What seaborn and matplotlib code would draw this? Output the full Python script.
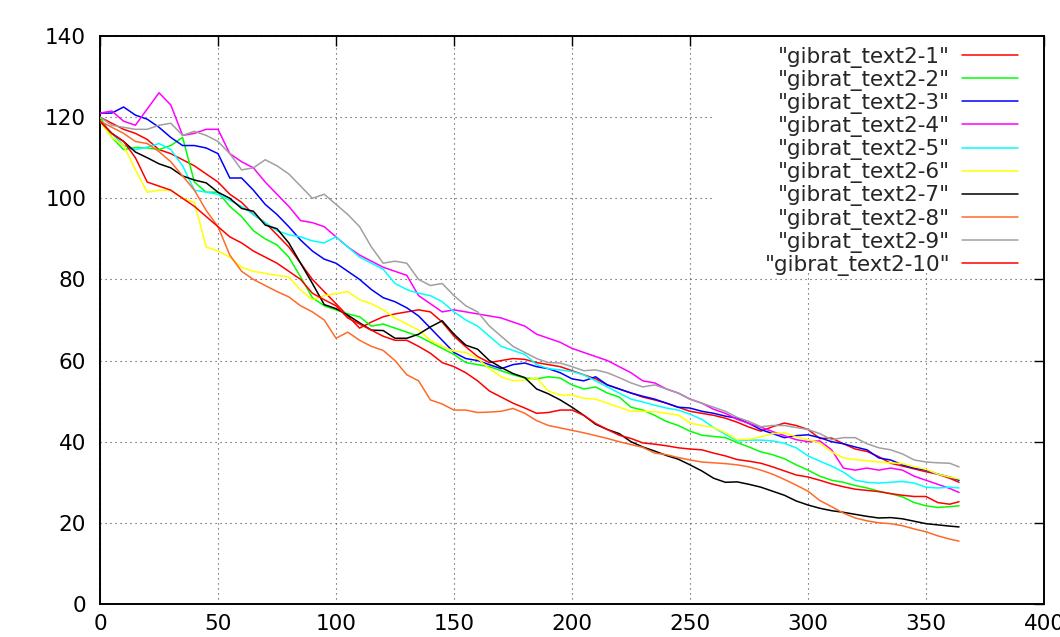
import numpy as np
import pandas as pd
import matplotlib
matplotlib.use("Agg")
import matplotlib.pyplot as plt
import matplotlib.patches as mpatches
import seaborn as sns

# day index (every 5 days, last day 364)
days = list(range(0, 365, 5)) + [364]

gibrat_1 = [120, 118.5, 117, 116, 114.5, 112, 111, 109.5, 108, 106, 104, 101, 99, 96, 94, 91, 88, 84, 80, 77,
            74, 71, 68, 69.5, 70.8, 71.5, 72, 72.5, 72, 69.5, 66, 63.4, 61, 59.5, 60, 60.5, 60.3, 59.5, 59, 58.5,
            57.5, 56.5, 55.5, 54, 53, 52, 51, 50.3, 49.5, 48.5, 47.5, 47, 46.5, 45.8, 44.8, 43.6, 42.6, 43.7, 44.6, 44,
            43, 40.8, 40.9, 39.5, 38.2, 37.6, 36.3, 34.7, 34, 33.3, 32.6, 32, 31, 30]
gibrat_2 = [120, 115, 112, 112.5, 112.4, 112, 113, 115, 104, 101.5, 101.5, 98, 95.5, 92, 90, 88.5, 85.5, 80.6, 75.5, 73.5,
            72.5, 71.5, 70.8, 68.5, 69, 68, 67, 66, 64.5, 63, 61.5, 59.5, 59, 58.5, 57.5, 56.5, 55.7, 55.5, 56, 55.7,
            54, 53, 53.5, 52, 51, 48.5, 47.8, 46.5, 45, 44, 42.6, 41.6, 41.3, 41, 39.8, 38.7, 37.5, 36.8, 35.8, 34.3,
            33, 31.5, 30.5, 30, 29.2, 28.6, 27.8, 27.2, 26.4, 25, 24.2, 23.8, 24, 24.2]
gibrat_3 = [121, 121, 122.5, 120.5, 119.5, 117.5, 115, 113, 113, 112.4, 111, 105, 105, 102, 98.5, 96, 93, 89.7, 87, 85,
            84, 82, 80, 77.5, 75.5, 74.5, 73, 71, 68, 65, 62, 60.5, 60, 59, 58, 59, 59.4, 58.5, 58, 57,
            55.5, 55, 56, 54, 53, 52, 51.2, 50.5, 49.5, 48.5, 48.3, 47.5, 47, 46.3, 45.8, 44.5, 43, 42, 41, 41.5,
            41.7, 41, 40, 39.5, 38.7, 38, 36, 35.5, 34.3, 33.5, 33, 32, 31.3, 30.5]
gibrat_4 = [121, 121.5, 119, 118, 122, 126, 123, 115.5, 116, 117, 117, 111, 109, 107.5, 104, 101, 98, 94.5, 94, 93,
            90.5, 88, 86, 84.5, 83, 82, 81, 76, 74, 72, 72.5, 72, 71.5, 71, 70.5, 69.5, 68.5, 66.5, 65.5, 64.5,
            63, 62, 61, 60, 58.5, 57, 55, 54.5, 53, 52, 50.5, 49.5, 48, 47, 45.5, 44.5, 43.6, 42.5, 41.5, 40.5,
            40, 40.2, 38, 33.5, 33, 33.5, 33, 33.5, 33, 31.5, 30.5, 29.5, 28.5, 27.5]
gibrat_5 = [119, 116, 113, 112, 112.6, 113.5, 112, 108, 102, 101.5, 101, 99.5, 98, 96, 94, 92, 91, 90.5, 89.5, 89,
            90.5, 88, 85.5, 84, 82.5, 79, 77.5, 76.6, 76, 74.5, 72, 70, 68.5, 66, 63.5, 62.5, 61.5, 59, 58, 57.7,
            57.3, 56.5, 55, 53.5, 52, 50.5, 49.8, 49, 48.3, 47.8, 46.8, 45.5, 43.5, 41.8, 40.2, 40.4, 40.4, 40.2, 39.6, 38.5,
            36.5, 35.2, 34, 32.5, 30.5, 30, 29.8, 30, 30.2, 29.8, 28.8, 28.6, 28.8, 28.6]
gibrat_6 = [119, 115, 113, 107, 101.5, 102, 102, 100, 99, 88, 87, 85.5, 83, 82, 81.5, 81, 80.6, 77.4, 75, 76,
            76.5, 77, 75, 74, 72.5, 70.5, 69, 67.5, 65, 63.5, 62.3, 62, 60.5, 58, 56, 55, 55.2, 55.7, 52.5, 51.5,
            51.5, 50.7, 50.5, 49.5, 48.5, 47.5, 47.5, 47.4, 47, 46.6, 44.6, 44, 43.5, 42.2, 40.5, 40.6, 41.2, 42, 42.2, 41.2,
            40.5, 39.7, 37.5, 36, 35.6, 35.3, 35, 34.8, 34.6, 33.8, 33.2, 32, 31.3, 30.8]
gibrat_7 = [119, 116, 114, 111.4, 110, 108.5, 107.5, 105.5, 104.5, 103.8, 101.5, 100, 97.5, 96.8, 93.4, 92.5, 89, 84, 79, 73.8,
            72.8, 71.2, 69.3, 67.5, 67.4, 65.5, 65.5, 66.5, 68.3, 69.8, 66.5, 63.8, 62.8, 60, 58.3, 56.8, 55.8, 53, 51.8, 50.3,
            48.5, 46.5, 44.3, 43, 42, 40, 38.7, 37.7, 36.6, 35.7, 34.3, 32.8, 31, 30, 30.1, 29.5, 28.8, 27.8, 26.8, 25.4,
            24.4, 23.6, 23, 22.6, 22.1, 21.6, 21.2, 21.3, 21, 20.4, 19.8, 19.5, 19.2, 19]
gibrat_8 = [119, 117.5, 116, 114, 113.5, 111.5, 109, 105.5, 102, 97, 93, 86, 82, 80, 78.5, 77, 75.7, 73.5, 72, 70,
            65.5, 67, 65, 63.5, 62.5, 60, 56.5, 55, 50.3, 49.3, 47.8, 47.8, 47.2, 47.3, 47.5, 48.2, 47, 45.2, 44, 43.4,
            42.8, 42.2, 41.5, 40.8, 40, 39.3, 38.6, 37.2, 36.8, 36.1, 35.5, 35, 34.8, 34.6, 34.3, 33.8, 33, 32, 30.7, 29.3,
            27.8, 25.5, 24, 22.4, 21.2, 20.5, 20, 19.8, 19.3, 18.5, 17.8, 16.8, 16, 15.5]
gibrat_9 = [120, 118, 117.5, 117, 117, 118, 118.5, 115.5, 116.5, 115.5, 114, 111, 107, 107.5, 109.5, 108, 106, 103, 100, 101,
            98.5, 96, 93, 88, 84, 84.5, 84, 80, 78.5, 79, 76, 73.5, 72, 68.5, 66, 63.5, 62, 60.5, 59.5, 59.4,
            58.5, 57.5, 57.7, 57, 55.8, 54.5, 53.5, 54, 53, 52, 50.5, 49.5, 48.5, 47.5, 46, 45, 43.7, 44, 44, 43.5,
            43, 42, 40.5, 41, 41, 39.5, 38.5, 38, 37, 35.5, 35, 34.8, 34.7, 33.8]
gibrat_10 = [119, 116, 114, 110, 104, 103, 102, 100, 98, 95.5, 93, 90.5, 89, 87, 85.5, 84, 82, 80, 76.6, 75,
             73.5, 70.5, 69, 67.5, 66, 65, 65, 63.5, 61.8, 59.5, 58.5, 57, 55, 52.5, 51, 49.5, 48.3, 47, 47.2, 47.8,
             47.8, 46.5, 44.5, 43, 41.6, 40.8, 39.7, 39.4, 39, 38.5, 38.2, 38, 37.2, 36.5, 35.6, 35.2, 34.7, 33.8, 32.8, 31.8,
             31.3, 30.5, 29.6, 28.9, 28.3, 28, 27.7, 27.2, 26.8, 26.5, 26.5, 25, 24.6, 25.2]

series_names = ['"gibrat_text2-%d"' % i for i in range(1, 11)]
series_values = [gibrat_1, gibrat_2, gibrat_3, gibrat_4, gibrat_5,
                 gibrat_6, gibrat_7, gibrat_8, gibrat_9, gibrat_10]
line_colors = ["#ff0000", "#00ff00", "#0000ff", "#ff00ff", "#00ffff",
               "#ffff00", "#000000", "#ff6a2a", "#a0a0a0", "#ff0000"]

x_ticks = [0, 50, 100, 150, 200, 250, 300, 350, 400]
y_ticks = [0, 20, 40, 60, 80, 100, 120, 140]

df = pd.concat([pd.DataFrame({"day": days, "value": v, "series": n})
                for n, v in zip(series_names, series_values)], ignore_index=True)

sns.set_style("white")
plt.rcParams["font.family"] = ["DejaVu Sans"]

fig = plt.figure(figsize=(10.6, 6.37), dpi=100)
ax = fig.add_axes([100 / 1060, 1 - 604 / 637, 944 / 1060, 568 / 637])

sns.lineplot(data=df, x="day", y="value", hue="series", hue_order=series_names,
             palette=dict(zip(series_names, line_colors)), estimator=None, sort=False,
             linewidth=1.1, ax=ax, zorder=3)

ax.set_xlim(0, 400)
ax.set_ylim(0, 140)
ax.set_xticks(x_ticks)
ax.set_yticks(y_ticks)
ax.set_xlabel("")
ax.set_ylabel("")
ax.set_axisbelow(True)
ax.grid(True, color="#444444", linestyle=(0, (1, 3.5)), linewidth=0.8)
ax.tick_params(direction="in", length=7, width=1, top=True, right=True,
               labelsize=15.5, colors="black")
ax.tick_params(axis="x", pad=7)
ax.tick_params(axis="y", pad=10)
for s in ax.spines.values():
    s.set_color("black")
    s.set_linewidth(1.4)

# white key area (hides the grid behind the legend, like gnuplot's key box)
ax.add_patch(mpatches.Rectangle((0.6515, 0.586), 0.3485, 0.414, transform=ax.transAxes,
                                facecolor="white", edgecolor="none", zorder=1))

handles, labels = ax.get_legend_handles_labels()
leg = ax.legend(handles, labels, loc="upper right", bbox_to_anchor=(0.9725, 0.9815),
                markerfirst=False, fontsize=15.5, frameon=False,
                handlelength=2.6, handletextpad=0.55, labelspacing=0.1,
                borderpad=0, borderaxespad=0)
leg.set_zorder(5)
for h in leg.get_lines():
    h.set_linewidth(1.1)

fig.savefig("out.png", dpi=100)
